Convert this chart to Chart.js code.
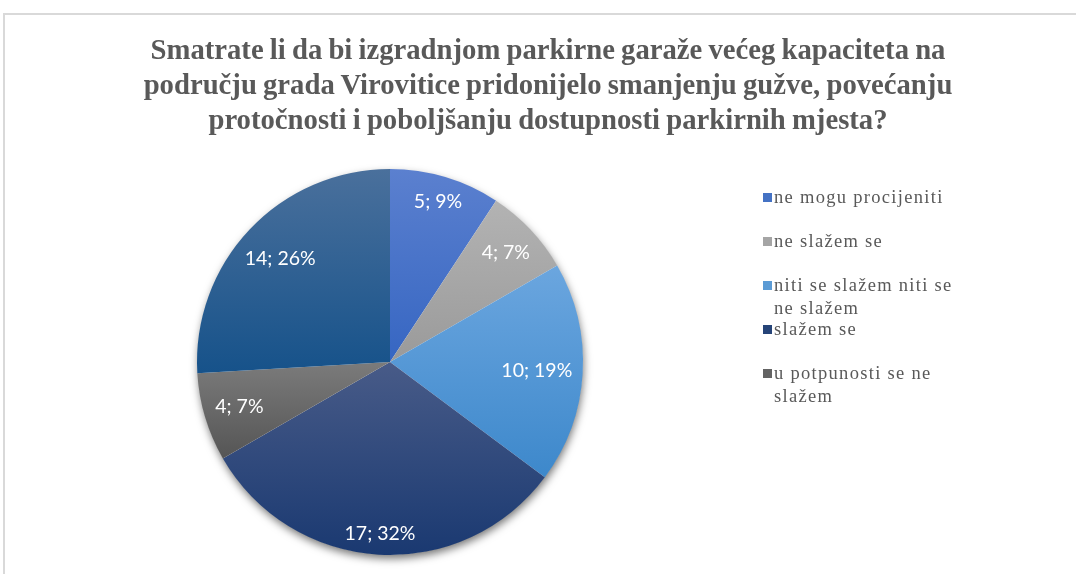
<!DOCTYPE html>
<html>
<head>
<meta charset="utf-8">
<script src="https://cdn.jsdelivr.net/npm/chart.js@4"></script>
<style>
  html, body { margin: 0; padding: 0; width: 1076px; height: 574px; overflow: hidden; background: #fff; }
  #frame { position: absolute; left: 3px; top: 13px; width: 1200px; height: 700px;
           border-top: 2px solid #d9d9d9; border-left: 2px solid #d9d9d9; }
  #title { position: absolute; left: 0; top: 32px; width: 1096px; text-align: center;
           font: bold 28.7px "Liberation Serif", "Times New Roman", serif; line-height: 35px; color: #595959;
           word-spacing: -1px; }
  #wrap { position: absolute; left: 0; top: 0; width: 1076px; height: 574px; }
  #legend { position: absolute; left: 762px; top: 186px; width: 220px; height: 222px; overflow: hidden;
            font: 18.5px "Liberation Serif", "Times New Roman", serif; color: #595959; letter-spacing: 1.3px; }
  .item { position: relative; height: 44px; }
  .swatch { position: absolute; left: 1px; top: 7px; width: 9px; height: 9px; }
  .text { position: absolute; left: 12px; top: 0; width: 188px; line-height: 23px; white-space: normal; }
</style>
</head>
<body>
<div id="frame"></div>
<div id="wrap"><canvas id="c" width="1076" height="574"></canvas></div>
<div id="title"></div>
<div id="legend"></div>
<script>
// Survey answers, counts and the percentages printed on each slice
const titleLines = [
  'Smatrate li da bi izgradnjom parkirne garaže većeg kapaciteta na',
  'području grada Virovitice pridonijelo smanjenju gužve, povećanju',
  'protočnosti i poboljšanju dostupnosti parkirnih mjesta?'
];
const categories = [
  'ne mogu procijeniti',
  'ne slažem se',
  'niti se slažem niti se ne slažem',
  'slažem se',
  'u potpunosti se ne slažem',
  'u potpunosti se slažem'
];
const counts = [5, 4, 10, 17, 4, 14];
const percents = [9, 7, 19, 32, 7, 26];

// Base colours plus the light (top) and dark (bottom) ends of each slice gradient
const baseColors = ['#4472C4', '#A5A5A5', '#5B9BD5', '#264478', '#636363', '#255E91'];
const topColors  = ['#5b80cf', '#b3b3b3', '#6ba6df', '#485b88', '#7b7b7b', '#4a709c'];
const botColors  = ['#3666c2', '#9a9a9a', '#3d88cb', '#1a3971', '#555555', '#16528a'];

document.getElementById('title').innerHTML = titleLines.join('<br>');

// Vertical gradient spanning the vertical extent of one sector
function sliceGradient(ctx) {
  const chart = ctx.chart;
  const i = ctx.dataIndex;
  const area = chart.chartArea;
  if (!area) return baseColors[i];
  const data = ctx.dataset.data;
  const total = data.reduce((a, b) => a + b, 0);
  const cx = (area.left + area.right) / 2;
  const cy = (area.top + area.bottom) / 2;
  const r = Math.min(area.right - area.left, area.bottom - area.top) / 2;
  let acc = 0;
  for (let k = 0; k < i; k++) acc += data[k];
  const a0 = -Math.PI / 2 + acc / total * 2 * Math.PI;
  const a1 = a0 + data[i] / total * 2 * Math.PI;
  const ys = [cy, cy + r * Math.sin(a0), cy + r * Math.sin(a1)];
  [-Math.PI / 2, Math.PI / 2, 3 * Math.PI / 2].forEach(a => { if (a > a0 && a < a1) ys.push(cy + r * Math.sin(a)); });
  const y0 = Math.min(...ys), y1 = Math.max(...ys);
  const g = chart.ctx.createLinearGradient(0, y0, 0, Math.max(y1, y0 + 1));
  g.addColorStop(0, topColors[i]);
  g.addColorStop(1, botColors[i]);
  return g;
}

// Soft drop shadow under the whole pie
const pieShadow = {
  id: 'pieShadow',
  beforeDatasetsDraw(chart) {
    const arc = chart.getDatasetMeta(0).data[0];
    if (!arc) return;
    const c = chart.ctx;
    c.save();
    c.shadowColor = 'rgba(0,0,0,0.55)';
    c.shadowBlur = 9;
    c.shadowOffsetX = 1;
    c.shadowOffsetY = 4;
    c.fillStyle = '#ffffff';
    c.beginPath();
    c.arc(arc.x, arc.y, arc.outerRadius - 0.5, 0, Math.PI * 2);
    c.fill();
    c.restore();
  }
};

// "count; percent%" labels inside each slice, pushed out until the text box
// sits a small margin inside the rim
const sliceLabels = {
  id: 'sliceLabels',
  afterDatasetsDraw(chart) {
    const c = chart.ctx;
    const meta = chart.getDatasetMeta(0);
    c.save();
    c.font = '19.5px Lato, "Open Sans", sans-serif';
    c.fillStyle = '#ffffff';
    c.textAlign = 'center';
    c.textBaseline = 'middle';
    meta.data.forEach((arc, i) => {
      const text = counts[i] + '; ' + percents[i] + '%';
      const halfW = c.measureText(text).width / 2;
      const halfH = 9;
      const mid = (arc.startAngle + arc.endAngle) / 2;
      const reach = halfW * Math.abs(Math.cos(mid)) + halfH * Math.abs(Math.sin(mid));
      const rr = arc.outerRadius - 10 - reach;
      c.fillText(text, arc.x + Math.cos(mid) * rr, arc.y + Math.sin(mid) * rr);
    });
    c.restore();
  }
};

const chart = new Chart(document.getElementById('c'), {
  type: 'pie',
  data: {
    labels: categories,
    datasets: [{
      data: counts,
      backgroundColor: sliceGradient,
      borderWidth: 0
    }]
  },
  options: {
    responsive: false,
    animation: false,
    layout: { padding: { left: 197, right: 493, top: 169, bottom: 19 } },
    plugins: {
      legend: { display: false },
      title: { display: false },
      tooltip: { enabled: false }
    }
  },
  plugins: [pieShadow, sliceLabels]
});

// Legend listing the answers with their colour keys (the box clips what does not fit)
const legendEl = document.getElementById('legend');
chart.data.labels.forEach((label, i) => {
  const item = document.createElement('div');
  item.className = 'item';
  const sw = document.createElement('div');
  sw.className = 'swatch';
  sw.style.background = baseColors[i];
  const tx = document.createElement('div');
  tx.className = 'text';
  tx.textContent = label;
  item.appendChild(sw);
  item.appendChild(tx);
  legendEl.appendChild(item);
});
</script>
</body>
</html>
